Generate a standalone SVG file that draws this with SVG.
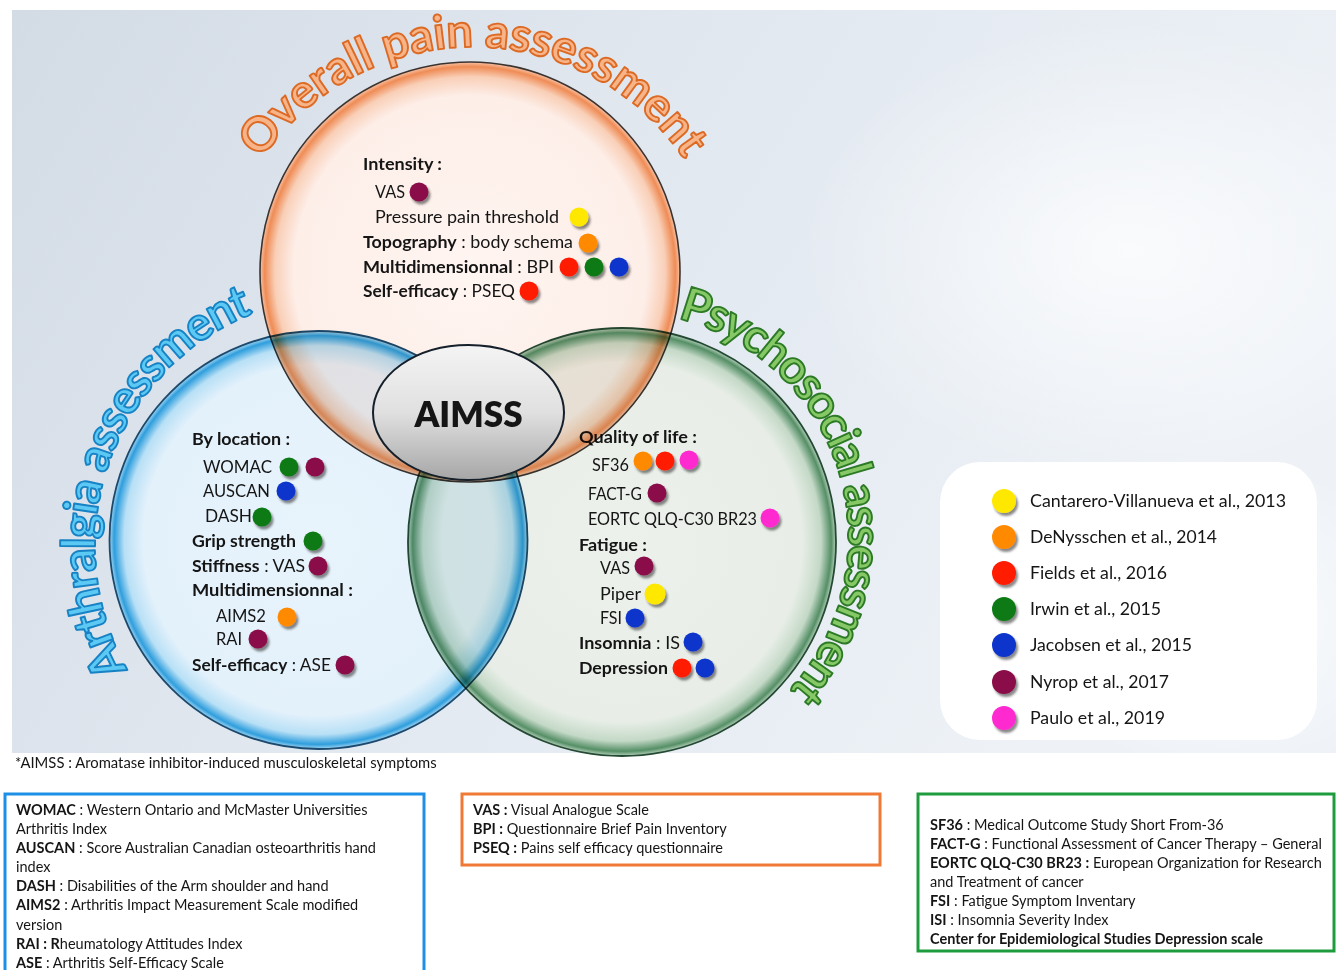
<svg xmlns="http://www.w3.org/2000/svg" width="1336" height="970" viewBox="0 0 1336 970">
<style>
.t{font-family:Lato,"Open Sans","Liberation Sans",sans-serif;font-size:16.8px;fill:#151515}
.b{font-weight:700}
.gl{font-size:14.5px}
.lg{font-size:18px}
.title{font-family:Lato,"Open Sans","Liberation Sans",sans-serif;font-size:47px;font-weight:700;stroke-width:1.9;stroke-linejoin:round}
.blend{mix-blend-mode:multiply}
.dot{filter:url(#sh)}
.cy{fill:#FFE800}.co{fill:#FF8A00}.cr{fill:#FF1A00}.cg{fill:#0B7A14}.cb{fill:#0A35CC}.cm{fill:#8A0F4A}.cp{fill:#FF2ACF}
.box{fill:none;stroke-width:3}
</style>
<defs>
<filter id="sh" x="-50%" y="-50%" width="200%" height="200%">
<feGaussianBlur in="SourceAlpha" stdDeviation="1.3"/>
<feOffset dx="1.5" dy="3" result="o"/>
<feFlood flood-color="#2a2a2a" flood-opacity="0.55"/>
<feComposite in2="o" operator="in"/>
<feMerge><feMergeNode/><feMergeNode in="SourceGraphic"/></feMerge>
</filter>
<linearGradient id="bgG" x1="0" y1="0" x2="1" y2="0.35">
<stop offset="0" stop-color="#D3DBE5"/>
<stop offset="0.45" stop-color="#E0E7EF"/>
<stop offset="1" stop-color="#EEF2F7"/>
</linearGradient>
<radialGradient id="hl" cx="0.5" cy="0.5" r="0.5">
<stop offset="0" stop-color="#FFFFFF" stop-opacity="0.75"/>
<stop offset="1" stop-color="#FFFFFF" stop-opacity="0"/>
</radialGradient>
<radialGradient id="gTop" cx="0.5" cy="0.5" r="0.5">
<stop offset="0" stop-color="#FFF5F1"/>
<stop offset="0.84" stop-color="#FDEEE8"/>
<stop offset="0.93" stop-color="#F9CFB7"/>
<stop offset="0.978" stop-color="#EF8C56"/>
<stop offset="1" stop-color="#F7C3A6"/>
</radialGradient>
<radialGradient id="gLeft" cx="0.5" cy="0.5" r="0.5">
<stop offset="0" stop-color="#E8F4FC"/>
<stop offset="0.84" stop-color="#E3F1FB"/>
<stop offset="0.93" stop-color="#B8E0F6"/>
<stop offset="0.978" stop-color="#2F9EDD"/>
<stop offset="1" stop-color="#A3D5F1"/>
</radialGradient>
<radialGradient id="gRight" cx="0.5" cy="0.5" r="0.5">
<stop offset="0" stop-color="#ECF1EB"/>
<stop offset="0.84" stop-color="#E8EEE7"/>
<stop offset="0.93" stop-color="#C4D9C7"/>
<stop offset="0.978" stop-color="#558F66"/>
<stop offset="1" stop-color="#B7D0BC"/>
</radialGradient>
<linearGradient id="gAim" x1="0" y1="0" x2="0" y2="1">
<stop offset="0" stop-color="#F4F4F4"/>
<stop offset="0.5" stop-color="#E0E0E0"/>
<stop offset="1" stop-color="#A6A6A6"/>
</linearGradient>
<path id="arcTop" d="M221.9 257.7 A255 255 0 0 1 724.1 257.7"/>
<path id="arcLeft" d="M222.1 763.7 A250 250 0 0 1 386.05 299.4"/>
<path id="arcRight" d="M595.9 313.1 A226 226 0 0 1 724.2 739.3"/>
</defs>

<g id="background">
<rect x="12" y="10" width="1324" height="743" fill="url(#bgG)"/>
<ellipse cx="1130" cy="250" rx="330" ry="230" fill="url(#hl)"/>
<ellipse cx="1230" cy="620" rx="200" ry="160" fill="url(#hl)"/>
</g>

<g id="connectors"/>

<g id="venn" style="isolation:isolate">
<g id="node-arthralgia" class="blend">
<circle cx="318.5" cy="540" r="209" fill="url(#gLeft)" stroke="#1C4A6E" stroke-width="1.8"/>
<text class="t b" x="192" y="445" textLength="98" lengthAdjust="spacingAndGlyphs">By location :</text>
<text class="t" x="203" y="473" textLength="69" lengthAdjust="spacingAndGlyphs">WOMAC</text>
<circle class="dot cg" cx="289" cy="467" r="9.5"/><circle class="dot cm" cx="315" cy="467" r="9.5"/>
<text class="t" x="203" y="497" textLength="67" lengthAdjust="spacingAndGlyphs">AUSCAN</text>
<circle class="dot cb" cx="286" cy="491" r="9.5"/>
<text class="t" x="205" y="522" textLength="47" lengthAdjust="spacingAndGlyphs">DASH</text>
<circle class="dot cg" cx="262" cy="517" r="9.5"/>
<text class="t b" x="192" y="547" textLength="104" lengthAdjust="spacingAndGlyphs">Grip strength</text>
<circle class="dot cg" cx="313" cy="541" r="9.5"/>
<text class="t" x="192" y="572" textLength="113" lengthAdjust="spacingAndGlyphs"><tspan class="b">Stiffness</tspan> : VAS</text>
<circle class="dot cm" cx="318" cy="566" r="9.5"/>
<text class="t b" x="192" y="596" textLength="161" lengthAdjust="spacingAndGlyphs">Multidimensionnal :</text>
<text class="t" x="216" y="622" textLength="50" lengthAdjust="spacingAndGlyphs">AIMS2</text>
<circle class="dot co" cx="287" cy="617" r="9.5"/>
<text class="t" x="216" y="645" textLength="26" lengthAdjust="spacingAndGlyphs">RAI</text>
<circle class="dot cm" cx="258" cy="639" r="9.5"/>
<text class="t" x="192" y="671" textLength="139" lengthAdjust="spacingAndGlyphs"><tspan class="b">Self-efficacy</tspan> : ASE</text>
<circle class="dot cm" cx="345" cy="665" r="9.5"/>
<text class="title" fill="#5CC9F4" stroke="#1782C4"><textPath href="#arcLeft" startOffset="50%" text-anchor="middle" textLength="428" lengthAdjust="spacing">Arthralgia assessment</textPath></text>
</g>
<g id="node-psychosocial" class="blend">
<circle cx="622" cy="542" r="214" fill="url(#gRight)" stroke="#244A33" stroke-width="1.8"/>
<text class="t b" x="579" y="443" textLength="118" lengthAdjust="spacingAndGlyphs">Quality of life :</text>
<text class="t" x="592" y="471" textLength="37" lengthAdjust="spacingAndGlyphs">SF36</text>
<circle class="dot co" cx="643" cy="461" r="9.5"/><circle class="dot cr" cx="665" cy="461" r="9.5"/><circle class="dot cp" cx="689" cy="460" r="9.5"/>
<text class="t" x="588" y="500" textLength="54" lengthAdjust="spacingAndGlyphs">FACT-G</text>
<circle class="dot cm" cx="657" cy="493" r="9.5"/>
<text class="t" x="588" y="525" textLength="169" lengthAdjust="spacingAndGlyphs">EORTC QLQ-C30 BR23</text>
<circle class="dot cp" cx="770" cy="518" r="9.5"/>
<text class="t b" x="579" y="551" textLength="68" lengthAdjust="spacingAndGlyphs">Fatigue :</text>
<text class="t" x="600" y="574" textLength="30" lengthAdjust="spacingAndGlyphs">VAS</text>
<circle class="dot cm" cx="644" cy="566" r="9.5"/>
<text class="t" x="600" y="600" textLength="41" lengthAdjust="spacingAndGlyphs">Piper</text>
<circle class="dot cy" cx="655" cy="594" r="10.5"/>
<text class="t" x="600" y="624" textLength="22" lengthAdjust="spacingAndGlyphs">FSI</text>
<circle class="dot cb" cx="635" cy="618" r="9.5"/>
<text class="t" x="579" y="649" textLength="101" lengthAdjust="spacingAndGlyphs"><tspan class="b">Insomnia</tspan> : IS</text>
<circle class="dot cb" cx="693" cy="642" r="9.5"/>
<text class="t b" x="579" y="674" textLength="89" lengthAdjust="spacingAndGlyphs">Depression</text>
<circle class="dot cr" cx="682" cy="668" r="9.5"/><circle class="dot cb" cx="705" cy="668" r="9.5"/>
<text class="title" fill="#86C866" stroke="#2C7A25"><textPath href="#arcRight" startOffset="50%" text-anchor="middle" textLength="466" lengthAdjust="spacing">Psychosocial assessment</textPath></text>
</g>
<g id="node-overall" class="blend">
<circle cx="470" cy="272" r="210" fill="url(#gTop)" stroke="#3B3330" stroke-width="1.6"/>
<text class="t b" x="363" y="170" textLength="79" lengthAdjust="spacingAndGlyphs">Intensity :</text>
<text class="t" x="375" y="198" textLength="30" lengthAdjust="spacingAndGlyphs">VAS</text>
<circle class="dot cm" cx="419" cy="192" r="9.5"/>
<text class="t" x="375" y="223" textLength="184" lengthAdjust="spacingAndGlyphs">Pressure pain threshold</text>
<circle class="dot cy" cx="579" cy="217" r="9.5"/>
<text class="t" x="363" y="248" textLength="210" lengthAdjust="spacingAndGlyphs"><tspan class="b">Topography</tspan> : body schema</text>
<circle class="dot co" cx="588" cy="243" r="9.5"/>
<text class="t" x="363" y="273" textLength="191" lengthAdjust="spacingAndGlyphs"><tspan class="b">Multidimensionnal</tspan> : BPI</text>
<circle class="dot cr" cx="569" cy="267" r="9.5"/><circle class="dot cg" cx="594" cy="267" r="9.5"/><circle class="dot cb" cx="619" cy="267" r="9.5"/>
<text class="t" x="363" y="297" textLength="152" lengthAdjust="spacingAndGlyphs"><tspan class="b">Self-efficacy</tspan> : PSEQ</text>
<circle class="dot cr" cx="529" cy="291" r="9.5"/>
<text class="title" fill="#F7B488" stroke="#DD6A24"><textPath href="#arcTop" startOffset="50%" text-anchor="middle" textLength="498" lengthAdjust="spacing">Overall pain assessment</textPath></text>
</g>
</g>

<g id="node-aimss">
<ellipse cx="468.5" cy="412.5" rx="95.5" ry="67.5" fill="url(#gAim)" stroke="#15202B" stroke-width="2"/>
<text class="t b" x="468.5" y="427" text-anchor="middle" style="font-size:35px;font-weight:800">AIMSS</text>
</g>

<g id="legend">
<rect x="940" y="462" width="377" height="278" rx="40" fill="#FFFFFF"/>
<circle class="dot cy" cx="1004" cy="501" r="12"/>
<text class="t lg" x="1030" y="507" textLength="256" lengthAdjust="spacingAndGlyphs">Cantarero-Villanueva et al., 2013</text>
<circle class="dot co" cx="1004" cy="537" r="12"/>
<text class="t lg" x="1030" y="543" textLength="187" lengthAdjust="spacingAndGlyphs">DeNysschen et al., 2014</text>
<circle class="dot cr" cx="1004" cy="573" r="12"/>
<text class="t lg" x="1030" y="579" textLength="137" lengthAdjust="spacingAndGlyphs">Fields et al., 2016</text>
<circle class="dot cg" cx="1004" cy="609" r="12"/>
<text class="t lg" x="1030" y="615" textLength="131" lengthAdjust="spacingAndGlyphs">Irwin et al., 2015</text>
<circle class="dot cb" cx="1004" cy="645" r="12"/>
<text class="t lg" x="1030" y="651" textLength="162" lengthAdjust="spacingAndGlyphs">Jacobsen et al., 2015</text>
<circle class="dot cm" cx="1004" cy="682" r="12"/>
<text class="t lg" x="1030" y="688" textLength="139" lengthAdjust="spacingAndGlyphs">Nyrop et al., 2017</text>
<circle class="dot cp" cx="1004" cy="718" r="12"/>
<text class="t lg" x="1030" y="724" textLength="135" lengthAdjust="spacingAndGlyphs">Paulo et al., 2019</text>
</g>

<g id="footnote">
<text class="t gl" x="15" y="768" style="font-size:14.8px">*AIMSS : Aromatase inhibitor-induced musculoskeletal symptoms</text>
</g>

<g id="glossary-arthralgia">
<rect class="box" x="5" y="794" width="419" height="190" stroke="#1E8FE6"/>
<text class="t gl" x="16" y="815"><tspan class="b">WOMAC</tspan> : Western Ontario and McMaster Universities</text>
<text class="t gl" x="16" y="834">Arthritis Index</text>
<text class="t gl" x="16" y="853"><tspan class="b">AUSCAN</tspan> : Score Australian Canadian osteoarthritis hand</text>
<text class="t gl" x="16" y="872">index</text>
<text class="t gl" x="16" y="891"><tspan class="b">DASH</tspan> : Disabilities of the Arm shoulder and hand</text>
<text class="t gl" x="16" y="910"><tspan class="b">AIMS2</tspan> : Arthritis Impact Measurement Scale modified</text>
<text class="t gl" x="16" y="930">version</text>
<text class="t gl" x="16" y="949"><tspan class="b">RAI : R</tspan>heumatology Attitudes Index</text>
<text class="t gl" x="16" y="968"><tspan class="b">ASE  </tspan>: Arthritis Self-Efficacy Scale</text>
</g>

<g id="glossary-pain">
<rect class="box" x="462" y="794" width="418" height="71" stroke="#F07A35"/>
<text class="t gl" x="473" y="815"><tspan class="b">VAS :</tspan> Visual Analogue Scale</text>
<text class="t gl" x="473" y="834"><tspan class="b">BPI :</tspan> Questionnaire Brief Pain Inventory</text>
<text class="t gl" x="473" y="853"><tspan class="b">PSEQ :</tspan> Pains self efficacy questionnaire</text>
</g>

<g id="glossary-psychosocial">
<rect class="box" x="918" y="794" width="416" height="157" stroke="#1E9B3C"/>
<text class="t gl" x="930" y="830"><tspan class="b">SF36</tspan> : Medical Outcome Study Short From-36</text>
<text class="t gl" x="930" y="849"><tspan class="b">FACT-G</tspan> : Functional Assessment of Cancer Therapy – General</text>
<text class="t gl" x="930" y="868"><tspan class="b">EORTC QLQ-C30 BR23 :</tspan> European Organization for Research</text>
<text class="t gl" x="930" y="887">and Treatment of cancer</text>
<text class="t gl" x="930" y="906"><tspan class="b">FSI</tspan> : Fatigue Symptom Inventary</text>
<text class="t gl" x="930" y="925"><tspan class="b">ISI</tspan> : Insomnia Severity Index</text>
<text class="t gl b" x="930" y="944">Center for Epidemiological Studies Depression scale</text>
</g>
</svg>
